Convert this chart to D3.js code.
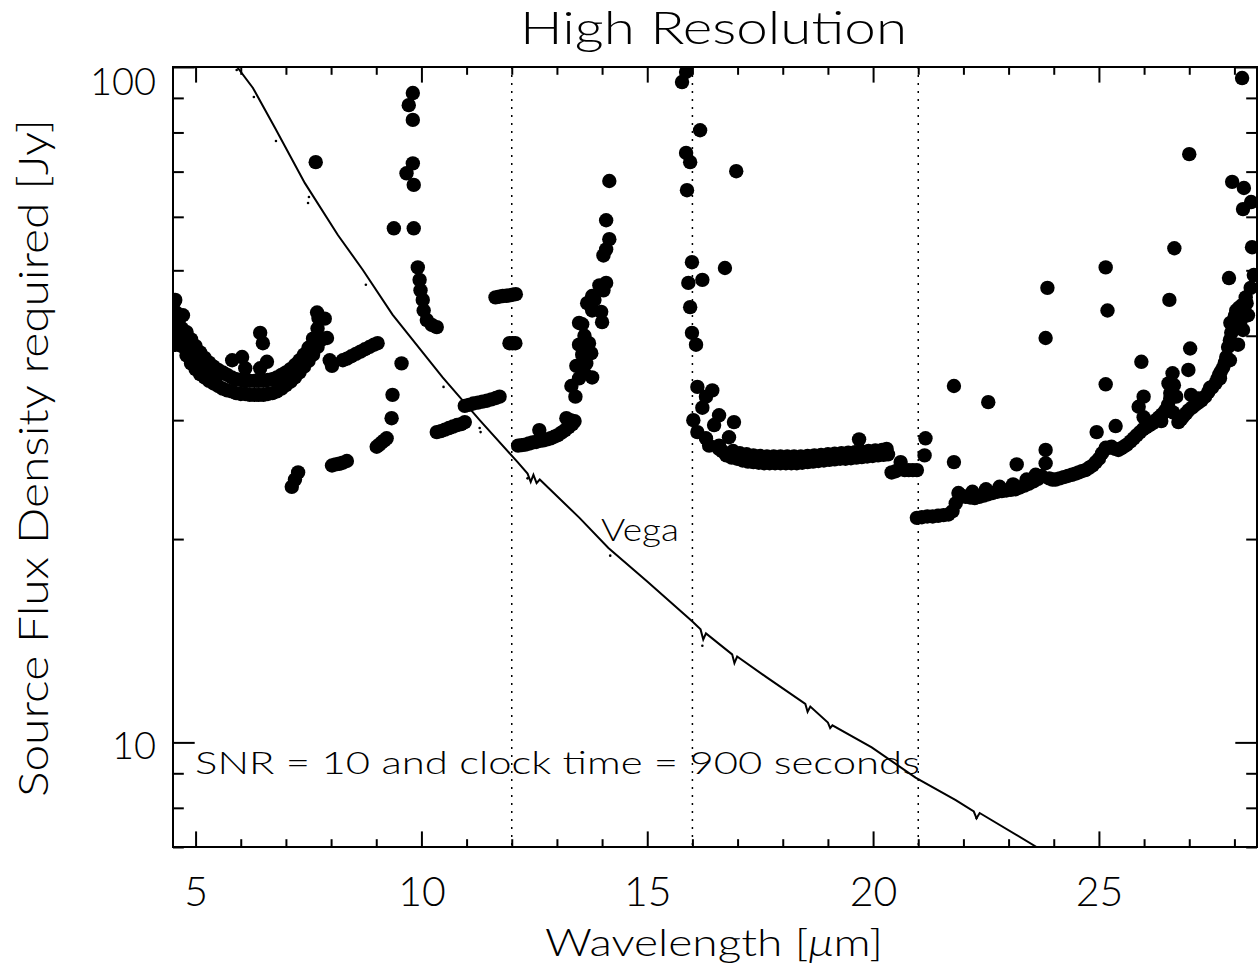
<!DOCTYPE html>
<html>
<head>
<meta charset="utf-8">
<script src="https://cdn.jsdelivr.net/npm/d3@7"></script>
<style>
  body { margin: 0; background: #fff; }
  text { font-family: Lato, "DejaVu Sans", sans-serif; font-weight: 300; fill: #000; }
</style>
</head>
<body>
<div id="chart"></div>
<script>
  var width = 1258,
      height = 969;

  // wavelength [um], source flux density required [Jy]
  var fluxShort = [
    [4.52,44.8],[4.52,43.2],[4.53,41.6],[4.54,40.1],[4.56,38.8],
    [4.60,41.0],[4.65,39.5],[4.70,38.6],[4.80,37.4],[4.90,36.4],[5.00,35.7],[5.10,35.1],[5.20,34.7],
    [5.30,34.3],[5.40,34.0],[5.50,33.7],[5.60,33.4],[5.70,33.2],[5.80,33.1],[5.90,32.9],[6.00,32.8],
    [6.10,32.8],[6.20,32.7],[6.30,32.7],[6.40,32.7],[6.50,32.7],[6.60,32.8],[6.70,32.9],[6.80,33.1],
    [6.90,33.4],[7.00,33.8],[7.10,34.2],[7.20,34.7],[7.30,35.3],[7.40,36.0],[7.50,36.7],[7.60,37.5],[7.70,38.5],
    [4.75,39.0],[4.85,38.0],[4.95,37.1],[5.05,36.4],[5.15,35.9],[5.25,35.5],[5.35,35.1],[5.45,34.8],
    [4.55,45.2],[4.57,43.3],[4.62,42.0],[4.72,42.9],[4.70,41.0],[4.80,40.5],[4.90,39.5],[5.00,38.6],
    [5.10,37.8],[5.20,37.1],[5.30,36.5],[5.40,36.0],[5.50,35.6],[5.60,35.3],[5.70,35.0],[5.80,34.7],
    [5.90,34.5],[6.00,34.4],[6.10,34.3],[6.20,34.3],[6.30,34.3],[6.40,34.3],[6.50,34.3],[6.60,34.4],
    [6.70,34.5],[6.80,34.7],[6.90,35.0],[7.00,35.3],[7.10,35.7],[7.20,36.2],[7.30,36.8],[7.40,37.5],
    [7.50,38.4],[7.60,39.6],[7.70,41.0],[7.72,42.5],[7.69,43.3],[7.86,42.4],[7.77,39.4],[7.91,39.7],
    [7.97,36.8],[8.02,36.1],
    [6.43,40.4],[6.49,39.0],[5.81,36.8],[6.03,37.2],[6.10,35.8],[6.58,36.6],[6.43,35.8],[7.46,37.2],[7.35,36.1],
    [7.66,72.3],[9.39,57.7],
    [7.27,25.1],[7.20,24.5],[7.13,23.9],
    [8.02,25.7],[8.10,25.8],[8.18,25.85],[8.26,25.95],[8.35,26.1],
    [9.01,27.4],[9.07,27.6],[9.12,27.8],[9.18,28.0],[9.23,28.2],[9.34,30.2],[9.36,32.7],[9.56,36.4],
    [8.26,36.8],[8.35,37.0],[8.45,37.3],[8.55,37.6],[8.65,37.9],[8.75,38.2],[8.85,38.5],[8.95,38.8],[9.03,39.0],
    [9.81,91.5],[9.72,87.8],[9.81,83.5],[9.81,72.0],[9.67,69.6],[9.83,66.9],[9.83,57.7],[9.92,50.5],
    [9.96,48.4],[9.98,46.7],[10.03,45.2],[10.05,43.6],[10.12,42.2],[10.23,41.5],[10.34,41.2],
    [10.34,28.8],[10.43,28.9],[10.52,29.05],[10.61,29.2],[10.70,29.35],[10.79,29.5],[10.88,29.6],[10.96,29.8],
    [10.96,31.5],[11.05,31.6],[11.15,31.75],[11.25,31.85],[11.35,31.95],[11.45,32.05],[11.55,32.2],
    [11.65,32.35],[11.73,32.5],
    [11.64,45.6],[11.72,45.7],[11.80,45.8],[11.88,45.85],[11.95,45.9],[12.02,46.0],[12.09,46.1],
    [11.95,39.0],[12.02,39.0],[12.08,39.0]
  ];

  var fluxMid = [
    [12.14,27.5],[12.22,27.55],[12.30,27.6],[12.38,27.7],[12.46,27.8],[12.54,27.85],[12.62,27.95],
    [12.70,28.0],[12.78,28.1],[12.86,28.2],[12.94,28.35],[13.02,28.5],[13.10,28.75],[13.18,29.0],
    [13.26,29.3],[13.34,29.6],[13.39,29.9],[12.61,29.0],[13.21,30.2],[13.30,30.0],
    [14.16,67.8],[14.09,59.3],[14.16,55.6],[14.09,53.7],[14.03,52.6],[14.09,47.9],[13.94,47.5],[13.78,45.8],
    [13.67,44.7],[13.78,43.6],[13.98,43.4],[14.00,41.9],[13.49,41.8],[13.56,41.6],[13.49,38.8],[13.71,39.0],
    [13.76,37.7],[13.43,36.1],[13.65,36.4],[13.49,34.6],[13.78,34.7],[13.32,33.7],[13.41,32.5],
    [13.61,35.2],[13.56,37.5],[13.61,40.0],[13.83,45.2],[14.03,46.7],
    [15.86,98.3],[15.77,95.0],[15.86,74.6],[15.95,72.3],[15.88,65.7],[15.91,47.9],[15.95,44.1],[15.99,51.4],
    [15.99,40.4]
  ];

  var fluxLong = [
    [16.17,80.6],[16.97,70.1],[16.22,48.4],[16.72,50.4],[16.08,38.8],[16.11,33.6],[16.44,33.2],[16.30,32.5],
    [16.22,31.3],[16.02,30.0],[16.59,30.5],[16.92,29.8],[16.11,28.8],[16.30,28.2],[16.81,28.3],[16.59,27.2],
    [16.48,29.5],[16.37,27.5],[16.59,27.5],[16.66,27.0],
    [16.75,26.6],[16.87,26.4],[16.99,26.3],[17.11,26.15],[17.23,26.05],[17.35,26.0],[17.47,25.95],[17.59,25.9],
    [17.71,25.9],[17.83,25.9],[17.95,25.9],[18.07,25.9],[18.19,25.9],[18.31,25.9],[18.43,25.95],[18.55,26.0],
    [18.67,26.05],[18.79,26.1],[18.91,26.15],[19.03,26.2],[19.15,26.25],[19.27,26.3],[19.39,26.3],[19.51,26.35],
    [19.63,26.4],[19.75,26.45],[19.87,26.5],[19.99,26.55],[20.11,26.6],[20.23,26.65],[20.33,26.7],
    [16.90,27.0],[17.05,26.8],[17.20,26.7],[17.35,26.6],[17.50,26.55],[17.65,26.5],[17.80,26.5],[17.95,26.5],
    [18.10,26.5],[18.25,26.5],[18.40,26.5],[18.55,26.55],[18.70,26.6],[18.85,26.65],[19.00,26.7],[19.15,26.75],
    [19.30,26.8],[19.45,26.85],[19.60,26.9],[19.75,26.95],[19.90,27.0],[20.05,27.05],[20.20,27.1],[20.30,27.2],
    [19.69,28.1],
    [20.41,25.1],[20.50,25.2],[20.61,26.0],[20.70,25.3],[20.79,25.3],[20.88,25.3],[20.97,25.3]
  ];

  var fluxFar = [
    [20.97,21.5],[21.08,21.55],[21.20,21.6],[21.32,21.6],[21.44,21.65],[21.56,21.7],[21.67,21.75],[21.76,22.0],
    [21.83,22.6],[21.89,23.4],[21.95,23.2],[22.05,23.1],[22.15,23.05],[22.25,23.0],[22.35,23.1],[22.45,23.2],
    [22.55,23.3],[22.65,23.4],[22.75,23.5],[22.85,23.55],[22.95,23.6],[23.05,23.65],[23.15,23.7],[23.25,23.85],
    [23.35,24.0],[23.45,24.15],[23.55,24.35],[23.65,24.55],[23.73,24.8],[23.82,25.9],[23.82,27.1],[23.90,24.6],
    [23.97,24.5],[24.04,24.5],[24.13,24.6],[24.22,24.7],[24.31,24.8],[24.40,24.9],[24.48,25.0],[24.55,25.1],
    [24.62,25.2],[24.70,25.3],[24.78,25.5],[24.86,25.7],[24.93,26.0],[25.00,26.3],[25.07,26.8],[25.15,27.3],
    [25.22,27.3],[25.28,27.4],[25.36,27.2],[25.43,27.1],[25.49,27.25],[25.55,27.4],[25.62,27.6],[25.70,27.9],
    [25.77,28.2],[25.84,28.5],[25.91,28.8],[25.98,29.1],[26.05,29.3],[26.12,29.5],[26.19,29.7],[26.26,30.0],
    [26.33,30.3],[26.40,30.6],[26.47,31.0],[26.53,31.6],[26.58,32.3],[26.62,33.0],[26.66,33.8],
    [22.20,23.5],[22.50,23.7],[22.80,23.9],[23.10,24.1],[23.40,24.5],[23.60,24.9],
    [24.95,28.8],[25.37,29.4],[25.99,30.3],[25.88,31.4],[25.99,32.5],[26.58,32.9],[26.54,34.0],[26.63,35.2],
    [26.71,32.5],[26.98,35.6],[27.02,38.3],[27.04,32.7],
    [26.76,29.8],[26.82,30.1],[26.87,30.4],[26.93,30.7],[26.98,31.0],[27.06,31.3],[27.13,31.6],[27.20,31.85],
    [27.27,32.1],[27.35,32.5],[27.42,33.0],[27.50,33.5],[27.58,34.0],[27.62,34.5],[27.66,35.0],[27.70,35.4],
    [27.75,35.9],[27.79,36.5],[27.82,37.2],[27.86,38.5],[27.90,39.4],[27.93,40.4],[27.96,41.2],[27.98,42.0],
    [28.01,42.8],[28.04,43.6],[28.10,44.0],[28.17,44.4],[28.25,45.6],[28.27,44.7],[28.36,47.1],[28.43,49.2],
    [26.38,29.9],[26.64,30.8],[27.20,32.3],[27.46,33.5],[27.68,34.6],[27.90,36.8],[28.08,38.8],[28.19,40.8],
    [28.30,42.9],[28.13,41.9],[28.15,43.6],[28.02,42.2],[27.91,41.8],
    [21.16,28.2],[21.14,26.6],[21.79,33.7],[21.79,26.0],[22.55,31.9],[23.18,25.8],[23.86,47.1],[23.82,39.7],
    [25.15,50.5],[25.19,43.6],[25.15,33.9],[25.94,36.6],[26.56,45.2],[26.67,53.9],[27.00,74.3],[28.17,96.3],
    [27.95,67.6],[28.21,66.2],[28.37,63.1],[28.19,61.6],[28.39,54.1],[27.88,48.7]
  ];

  // Vega spectrum
  var vegaLine = [
    [5.92,100],[6.27,93.1],[6.76,81.2],[7.42,67.3],[8.15,56.4],[8.70,50.1],[9.36,43.0],[10.47,34.7],
    [11.29,30.0],[12.13,26.0],[12.35,25.0],[12.42,24.3],[12.48,24.9],[12.55,24.2],[12.62,24.5],[13.50,21.5],
    [14.14,19.4],[15.00,17.3],[16.00,15.1],[16.18,14.7],[16.24,14.2],[16.30,14.5],[16.88,13.5],[16.93,13.1],
    [16.99,13.4],[17.63,12.5],[18.50,11.4],[18.55,11.1],[18.61,11.3],[19.00,10.7],[19.05,10.5],[19.10,10.6],
    [19.97,9.83],[20.94,8.87],[21.83,8.21],[22.23,7.90],[22.29,7.72],[22.36,7.86],[23.62,7.0]
  ];
  var vegaDots = [
    [5.91,99],[6.29,90.3],[6.78,77.7],[7.49,62.9],[7.51,64.2],[8.77,47.6],[10.49,33.6],[11.29,29.2],
    [11.31,28.8],[12.35,24.6],[14.18,18.9],[16.22,13.9],[22.29,7.73]
  ];

  var bandEdges = [12, 16, 21];
  var xMajor = [5, 10, 15, 20, 25];
  var xMinor = [6, 7, 8, 9, 11, 12, 13, 14, 16, 17, 18, 19, 21, 22, 23, 24, 26, 27, 28];
  var yMajor = [10, 100];
  var yMinor = [7, 8, 9, 20, 30, 40, 50, 60, 70, 80, 90];

  var plotLeft = 173, plotTop = 67, plotRight = 1257, plotBottom = 847;

  var x = d3.scaleLinear()
      .domain([4.5, 28.5])
      .range([plotLeft, plotRight]);

  var y = d3.scaleLog()
      .domain([7, 100])
      .range([plotBottom, plotTop]);

  var svg = d3.select("#chart").append("svg")
      .attr("width", width)
      .attr("height", height);

  svg.append("rect")
      .attr("width", width)
      .attr("height", height)
      .attr("fill", "#fff");

  svg.append("clipPath")
      .attr("id", "plot-clip")
    .append("rect")
      .attr("x", plotLeft)
      .attr("y", plotTop)
      .attr("width", plotRight - plotLeft)
      .attr("height", plotBottom - plotTop);

  var plot = svg.append("g")
      .attr("clip-path", "url(#plot-clip)");

  // band boundaries
  plot.selectAll(".edge")
      .data(bandEdges)
    .enter().append("line")
      .attr("class", "edge")
      .attr("x1", function(d) { return x(d); })
      .attr("x2", function(d) { return x(d); })
      .attr("y1", plotTop)
      .attr("y2", plotBottom)
      .attr("stroke", "#000")
      .attr("stroke-width", 1.5)
      .attr("stroke-dasharray", "2,6");

  var line = d3.line()
      .x(function(d) { return x(d[0]); })
      .y(function(d) { return y(d[1]); });

  plot.append("path")
      .datum(vegaLine)
      .attr("d", line)
      .attr("fill", "none")
      .attr("stroke", "#000")
      .attr("stroke-width", 2);

  plot.selectAll(".vdot")
      .data(vegaDots)
    .enter().append("circle")
      .attr("class", "vdot")
      .attr("cx", function(d) { return x(d[0]); })
      .attr("cy", function(d) { return y(d[1]); })
      .attr("r", 1.3)
      .attr("fill", "#000");

  var allFlux = fluxShort.concat(fluxMid, fluxLong, fluxFar);

  plot.selectAll(".flux")
      .data(allFlux)
    .enter().append("circle")
      .attr("class", "flux")
      .attr("cx", function(d) { return x(d[0]); })
      .attr("cy", function(d) { return y(d[1]); })
      .attr("r", 7.2)
      .attr("fill", "#000");

  // axes
  function styleAxis(g) {
    g.select(".domain").remove();
    g.selectAll(".tick line").attr("stroke", "#000").attr("stroke-width", 2);
    g.selectAll("text").attr("fill", "#000");
    g.attr("font-family", null);
  }

  svg.append("g")
      .attr("transform", "translate(0," + plotBottom + ")")
      .call(d3.axisBottom(x).tickValues(xMajor).tickSize(-15.6).tickPadding(30).tickFormat(d3.format("d")))
      .call(styleAxis)
      .attr("font-size", 41);

  svg.append("g")
      .attr("transform", "translate(0," + plotBottom + ")")
      .call(d3.axisBottom(x).tickValues(xMinor).tickSize(-7.8).tickFormat(""))
      .call(styleAxis);

  svg.append("g")
      .attr("transform", "translate(0," + plotTop + ")")
      .call(d3.axisTop(x).tickValues(xMajor).tickSize(-15.6).tickFormat(""))
      .call(styleAxis);

  svg.append("g")
      .attr("transform", "translate(0," + plotTop + ")")
      .call(d3.axisTop(x).tickValues(xMinor).tickSize(-7.8).tickFormat(""))
      .call(styleAxis);

  var yAxis = svg.append("g")
      .attr("transform", "translate(" + plotLeft + ",0)")
      .call(d3.axisLeft(y).tickValues(yMajor).tickSize(-21.7).tickPadding(17).tickFormat(d3.format("d")))
      .call(styleAxis)
      .attr("font-size", 38);

  yAxis.selectAll("text")
      .attr("dy", function(d) { return d === 100 ? "0.72em" : "0.42em"; });

  svg.append("g")
      .attr("transform", "translate(" + plotLeft + ",0)")
      .call(d3.axisLeft(y).tickValues(yMinor).tickSize(-10.8).tickFormat(""))
      .call(styleAxis);

  svg.append("g")
      .attr("transform", "translate(" + plotRight + ",0)")
      .call(d3.axisRight(y).tickValues(yMajor).tickSize(-21.7).tickFormat(""))
      .call(styleAxis);

  svg.append("g")
      .attr("transform", "translate(" + plotRight + ",0)")
      .call(d3.axisRight(y).tickValues(yMinor).tickSize(-10.8).tickFormat(""))
      .call(styleAxis);

  svg.append("rect")
      .attr("x", plotLeft)
      .attr("y", plotTop)
      .attr("width", plotRight - plotLeft)
      .attr("height", plotBottom - plotTop)
      .attr("fill", "none")
      .attr("stroke", "#000")
      .attr("stroke-width", 2);

  // texts
  svg.append("text")
      .attr("x", 520)
      .attr("y", 44)
      .attr("font-size", 46)
      .attr("textLength", 387)
      .attr("lengthAdjust", "spacingAndGlyphs")
      .text("High Resolution");

  var xt = svg.append("text")
      .attr("x", 545)
      .attr("y", 956)
      .attr("font-size", 38)
      .attr("textLength", 338)
      .attr("lengthAdjust", "spacingAndGlyphs");
  xt.append("tspan").text("Wavelength [");
  xt.append("tspan").attr("font-style", "italic").text("\u03bc");
  xt.append("tspan").text("m]");

  svg.append("text")
      .attr("transform", "translate(48,797) rotate(-90)")
      .attr("font-size", 42)
      .attr("textLength", 678)
      .attr("lengthAdjust", "spacingAndGlyphs")
      .text("Source Flux Density required [Jy]");

  svg.append("text")
      .attr("x", 195)
      .attr("y", 774)
      .attr("font-size", 32)
      .attr("textLength", 725)
      .attr("lengthAdjust", "spacingAndGlyphs")
      .text("SNR = 10 and clock time = 900 seconds");

  svg.append("text")
      .attr("x", 601)
      .attr("y", 541)
      .attr("font-size", 32)
      .attr("textLength", 78)
      .attr("lengthAdjust", "spacingAndGlyphs")
      .text("Vega");
</script>
</body>
</html>
